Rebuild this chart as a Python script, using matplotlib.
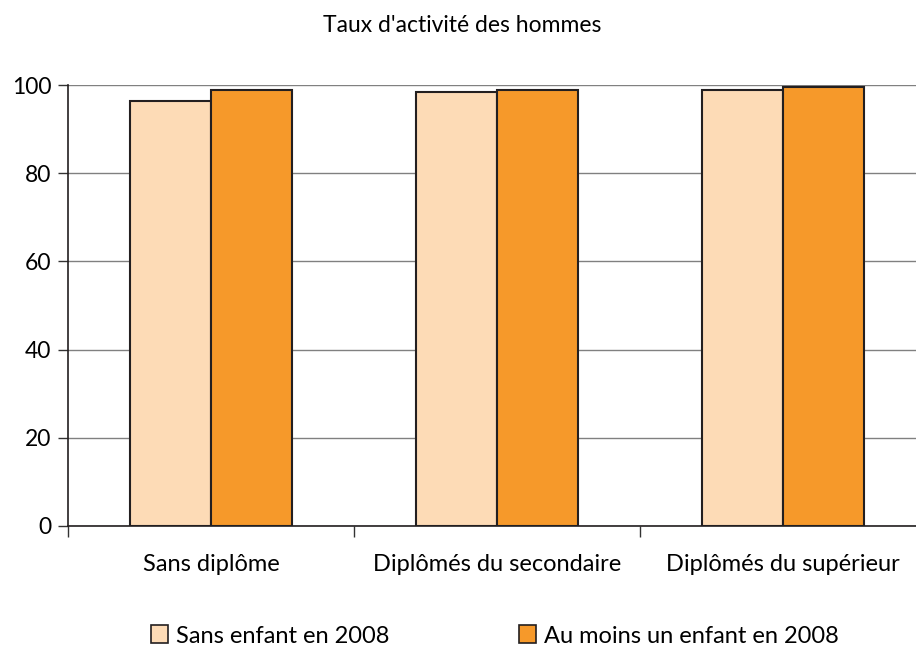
import matplotlib
matplotlib.use("Agg")
import matplotlib.pyplot as plt
from matplotlib.patches import Patch
import numpy as np

plt.rcParams['font.family'] = ['Lato', 'DejaVu Sans']

categories = ["Sans diplôme", "Diplômés du secondaire", "Diplômés du supérieur"]
series_names = ["Sans enfant en 2008", "Au moins un enfant en 2008"]
sans_enfant = [96.4, 98.4, 98.9]
avec_enfant = [98.9, 98.9, 99.6]
yticks = [0, 20, 40, 60, 80, 100]
title = "Taux d'activité des hommes"

light = "#FDDBB6"
orange = "#F6992A"
edge = "#231F20"

fig = plt.figure(figsize=(9.16, 6.51), dpi=100)
ax = fig.add_axes([68/916, 1-526/651, 858/916, (526-85)/651])

x = np.arange(len(categories))
w = 0.284
ax.bar(x - w/2, sans_enfant, width=w, color=light, edgecolor=edge, linewidth=1.5, zorder=3)
ax.bar(x + w/2, avec_enfant, width=w, color=orange, edgecolor=edge, linewidth=1.5, zorder=3)

ax.set_xlim(-0.5, 2.5)
ax.set_ylim(0, 100)
ax.set_yticks(yticks)
ax.set_yticklabels([str(v) for v in yticks], fontsize=16.5)
ax.yaxis.grid(True, color="#808080", linewidth=1, zorder=0)
ax.tick_params(axis='y', length=7, width=1, color="#333333", pad=5)

ax.set_xticks([-0.5, 0.5, 1.5, 2.5])
ax.set_xticklabels([])
ax.set_xticks(x, minor=True)
ax.set_xticklabels(categories, minor=True, fontsize=17)
ax.tick_params(axis='x', which='major', length=8, width=1, color="#333333")
ax.tick_params(axis='x', which='minor', length=0, pad=20)

for s in ['top', 'right']:
    ax.spines[s].set_visible(False)
ax.spines['left'].set_color("#231F20")
ax.spines['bottom'].set_color("#231F20")
ax.spines['left'].set_linewidth(1.2)
ax.spines['bottom'].set_linewidth(1.2)
ax.set_axisbelow(True)

fig.text(462/916, 1-25/651, title, ha='center', va='center', fontsize=16.5)

handles = [Patch(facecolor=light, edgecolor=edge, linewidth=1.2),
           Patch(facecolor=orange, edgecolor=edge, linewidth=1.2)]
fig.legend(handles, series_names, loc='center', bbox_to_anchor=(495/916, 1-636/651),
           ncol=2, frameon=False, fontsize=17, handlelength=0.7, handleheight=0.8,
           handletextpad=0.35, columnspacing=5.5)

fig.savefig("out.png", dpi=100)
